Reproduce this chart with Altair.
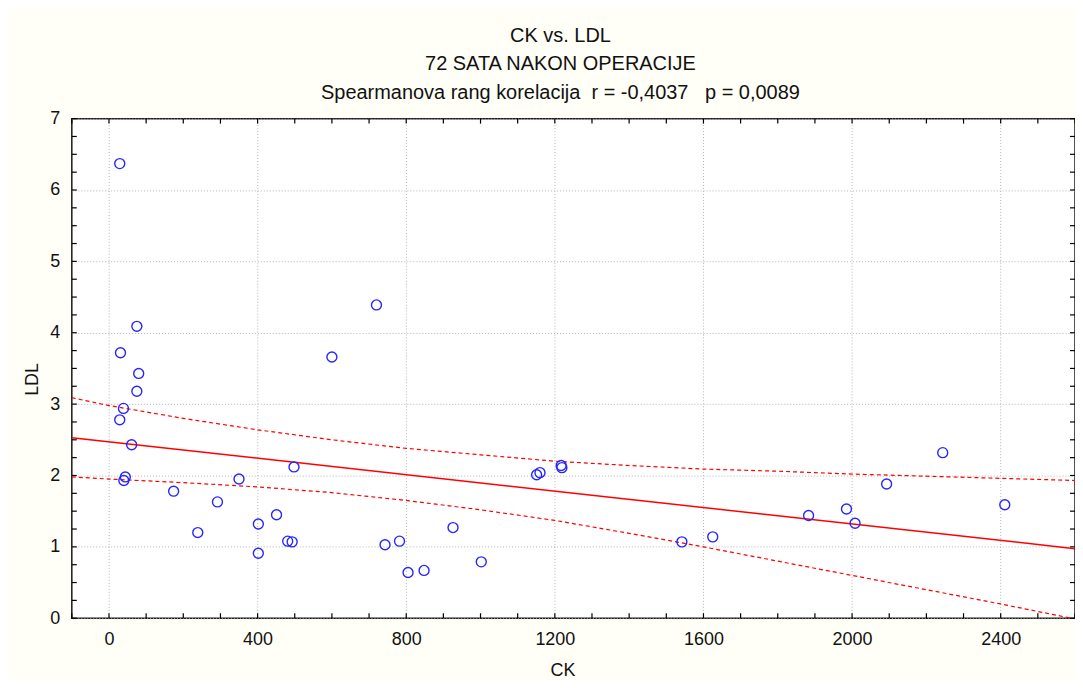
import altair as alt
import pandas as pd

# ---- data ----
ck = [29, 31, 75, 80, 75, 39, 29, 61, 44, 40, 174, 239, 292, 350, 402, 402,
      451, 481, 493, 498, 600, 720, 743, 782, 805, 848, 926, 1002, 1151, 1160,
      1217, 1219, 1542, 1625, 1883, 1985, 2008, 2093, 2244, 2411]
ldl = [6.37, 3.72, 4.09, 3.43, 3.18, 2.94, 2.78, 2.43, 1.98, 1.93, 1.78, 1.20,
       1.63, 1.95, 1.32, 0.91, 1.45, 1.08, 1.07, 2.12, 3.66, 4.39, 1.03, 1.08,
       0.64, 0.67, 1.27, 0.79, 2.01, 2.04, 2.14, 2.11, 1.07, 1.14, 1.44, 1.53,
       1.33, 1.88, 2.32, 1.59]

fit_ck = [-100, 2600]
fit_ldl = [2.53, 0.975]

upper_ck = [-100, 0, 200, 400, 600, 800, 1000, 1200, 1400, 1600, 1800, 2000, 2200, 2400, 2600]
upper_ldl = [3.09, 2.98, 2.80, 2.64, 2.50, 2.38, 2.29, 2.20, 2.14, 2.09, 2.06, 2.02, 1.99, 1.96, 1.93]
lower_ck = [-100, 0, 200, 400, 600, 800, 1000, 1200, 1400, 1600, 1800, 2000, 2200, 2400, 2590]
lower_ldl = [1.98, 1.95, 1.90, 1.84, 1.76, 1.65, 1.52, 1.37, 1.19, 1.00, 0.80, 0.60, 0.40, 0.20, 0.0]

x_major = [0, 400, 800, 1200, 1600, 2000, 2400]
y_major = [0, 1, 2, 3, 4, 5, 6, 7]
x_minor = list(range(-100, 2601, 100))
y_minor = [i * 0.25 for i in range(29)]

title_lines = ["CK vs. LDL", "72 SATA NAKON OPERACIJE",
               "Spearmanova rang korelacija \u00a0r = -0,4037 \u00a0\u00a0p = 0,0089"]

FONT = "Liberation Sans"
W, H = 1006, 501
TICK = 5
PAD_L, PAD_T, PAD_B = 64, 110, 61

pts = pd.DataFrame({"CK": ck, "LDL": ldl})
fit = pd.DataFrame({"CK": fit_ck, "LDL": fit_ldl})
band = pd.DataFrame({
    "CK": upper_ck + lower_ck,
    "LDL": upper_ldl + lower_ldl,
    "band": ["upper"] * len(upper_ck) + ["lower"] * len(lower_ck),
})
xt = pd.DataFrame({"CK": x_minor})
yt = pd.DataFrame({"LDL": y_minor})

xscale = alt.Scale(domain=[-100, 2600], nice=False, zero=False)
yscale = alt.Scale(domain=[0, 7], nice=False, zero=False)

xaxis = alt.Axis(
    values=x_major, format="d", grid=True, gridColor="#b4b4b4", gridDash=[1, 2],
    ticks=False, domain=False, labelPadding=12, labelFont=FONT,
    labelFontSize=18, labelColor="#111111", labelFlush=False,
    title="CK", titleFont=FONT, titleFontSize=18, titleFontWeight="normal",
    titleColor="#111111", titleX=492, titleY=57, titleAlign="center",
    titleBaseline="alphabetic")
yaxis = alt.Axis(
    values=y_major, format="d", grid=True, gridColor="#b4b4b4", gridDash=[1, 2],
    ticks=False, domain=False, labelPadding=12, labelFont=FONT,
    labelFontSize=18, labelColor="#111111", labelFlush=False,
    title="LDL", titleFont=FONT, titleFontSize=18, titleFontWeight="normal",
    titleColor="#111111", titleX=-34, titleY=261, titleAlign="center",
    titleAngle=270, titleBaseline="alphabetic")

points = alt.Chart(pts).mark_point(
    shape="circle", filled=False, size=100, strokeWidth=1.4,
    color="#2626ff", opacity=1
).encode(
    x=alt.X("CK:Q", scale=xscale, axis=xaxis),
    y=alt.Y("LDL:Q", scale=yscale, axis=yaxis),
)

fit_line = alt.Chart(fit).mark_line(color="#ff0000", strokeWidth=1.5, clip=True).encode(
    x=alt.X("CK:Q", scale=xscale, axis=xaxis),
    y=alt.Y("LDL:Q", scale=yscale, axis=yaxis),
)

band_lines = alt.Chart(band).mark_line(color="#ff0000", strokeWidth=1.2, strokeDash=[4, 3], clip=True).encode(
    x=alt.X("CK:Q", scale=xscale, axis=xaxis),
    y=alt.Y("LDL:Q", scale=yscale, axis=yaxis),
    detail="band:N",
)

# inward-pointing tick marks on all four edges
tick_style = dict(color="#000000", strokeWidth=1.2)
xt_bottom = alt.Chart(xt).mark_rule(**tick_style).encode(
    x=alt.X("CK:Q", scale=xscale, axis=xaxis), y=alt.value(H), y2=alt.value(H - TICK))
xt_top = alt.Chart(xt).mark_rule(**tick_style).encode(
    x=alt.X("CK:Q", scale=xscale, axis=xaxis), y=alt.value(0), y2=alt.value(TICK))
yt_left = alt.Chart(yt).mark_rule(**tick_style).encode(
    y=alt.Y("LDL:Q", scale=yscale, axis=yaxis), x=alt.value(0), x2=alt.value(TICK))
yt_right = alt.Chart(yt).mark_rule(**tick_style).encode(
    y=alt.Y("LDL:Q", scale=yscale, axis=yaxis), x=alt.value(W), x2=alt.value(W - TICK))

chart = alt.layer(
    xt_bottom, xt_top, yt_left, yt_right, fit_line, band_lines, points
).resolve_axis(x="shared", y="shared").properties(
    width=W, height=H,
    autosize=alt.AutoSizeParams(type="none"),
    padding={"left": PAD_L, "top": PAD_T, "right": 0, "bottom": PAD_B},
    background="#fffff7",
    title=alt.Title(title_lines, font=FONT, fontSize=20, fontWeight="normal",
                    color="#111111", anchor="middle", frame="group",
                    baseline="bottom", lineHeight=28.5, offset=-13, dx=-13),
).configure_view(stroke="#1a1a1a", strokeWidth=1.5, fill="#ffffff")

chart.save("out.html", embed_options={"renderer": "svg", "actions": False})
